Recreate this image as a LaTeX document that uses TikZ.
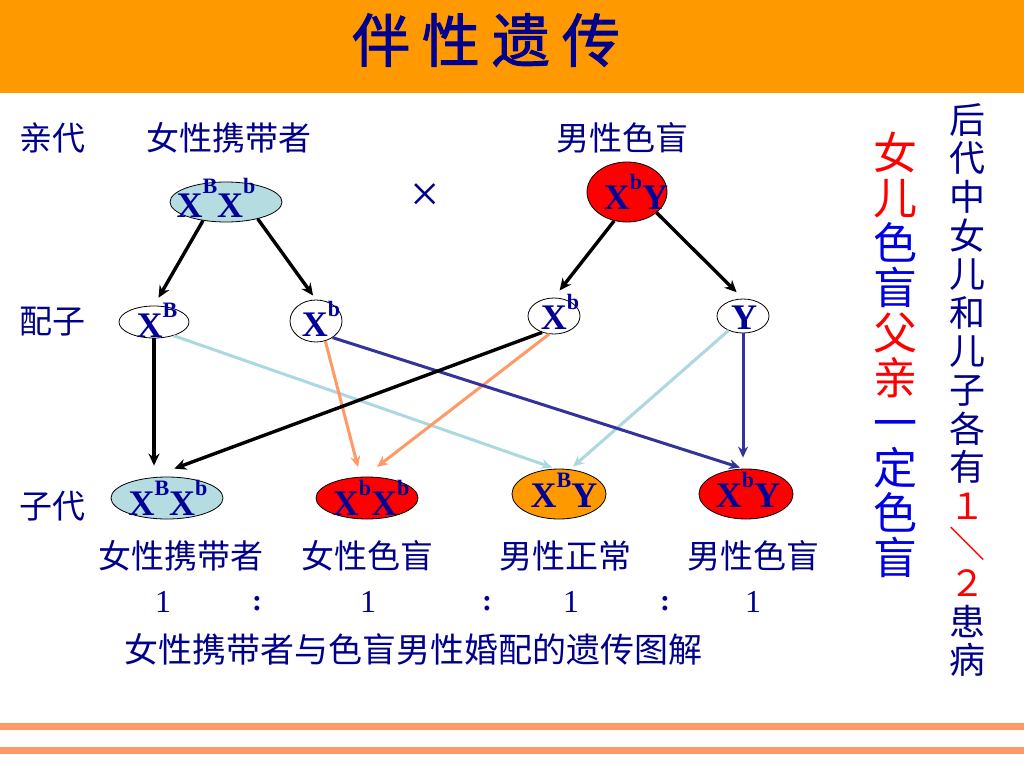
\documentclass[tikz,border=0pt]{standalone}
\usepackage{fontspec}
\setmainfont{Liberation Serif}
\newfontfamily\cjk{Noto Sans CJK SC}
\newfontfamily\cjktitle[FakeBold=1.6]{Noto Sans CJK SC}
\usetikzlibrary{shapes.geometric,arrows.meta}
\definecolor{barorange}{RGB}{255,153,0}
\definecolor{stripe}{RGB}{255,153,102}
\definecolor{txtnavy}{RGB}{0,0,140}
\definecolor{gnavy}{RGB}{0,0,153}
\definecolor{ltblue}{RGB}{180,220,225}
\definecolor{lnblue}{RGB}{172,216,224}
\definecolor{lnnavy}{RGB}{51,51,153}
\definecolor{salmon}{RGB}{255,153,102}
\definecolor{brblue}{RGB}{0,0,230}
\definecolor{fillorange}{RGB}{255,153,0}
\newcommand\gsup[2][20pt]{\raisebox{#1}{\fontsize{22}{22}\selectfont #2}}
\begin{document}
\begin{tikzpicture}[x=1pt,y=-1pt,
  cn/.style={font=\cjk\fontsize{33}{36}\selectfont, text=txtnavy, inner sep=0pt},
  gen/.style={ellipse, draw=black, line width=0.8pt, inner sep=0pt},
  gt/.style={font=\bfseries\fontsize{36}{36}\selectfont, text=gnavy, inner sep=0pt},
  rt/.style={font=\fontsize{32}{34}\selectfont, text=txtnavy, inner sep=0pt},
  blkarr/.style={draw=black, line width=3.4pt, -{Stealth[length=12pt,width=11pt]}},
  salarr/.style={draw=salmon, line width=3pt, -{Stealth[length=11pt,width=10pt]}},
  lbarr/.style={draw=lnblue, line width=3pt, -{Stealth[length=11pt,width=10pt]}},
  navarr/.style={draw=lnnavy, line width=3pt, -{Stealth[length=11pt,width=10pt]}}
]
\useasboundingbox (0,0) rectangle (1024,768);
\fill[white] (0,0) rectangle (1024,768);
% title bar
\fill[barorange] (0,0) rectangle (1024,93);
\node[font=\cjktitle\fontsize{58}{60}\selectfont, text=txtnavy, inner sep=0pt] (title) at (486,40) {伴\hspace{12pt}性\hspace{12pt}遗\hspace{12pt}传};
% bottom stripes
\fill[stripe] (0,722.5) rectangle (1024,729.6);
\fill[stripe] (0,746.8) rectangle (1024,754.3);

% row labels
\node[cn] (lp) at (52,138) {亲代};
\node[cn] (lg) at (52,322) {配子};
\node[cn] (lo) at (52,506) {子代};
\node[cn] (lp1) at (229,138) {女性携带者};
\node[cn] (lp2) at (622,138) {男性色盲};
\node[font=\fontsize{52}{52}\selectfont, text=txtnavy, inner sep=0pt] (cross) at (425,198) {×};

% parents
\node[gen, fill=ltblue, minimum width=112pt, minimum height=40pt] (P1) at (226,202) {};
\node[gen, fill=red, minimum width=80pt, minimum height=60pt] (P2) at (627,192) {};
% gametes
\node[gen, fill=white, minimum width=70pt, minimum height=32pt] (gB) at (154,322) {};
\node[gen, fill=white, minimum width=52pt, minimum height=42pt] (gb1) at (316,321) {};
\node[gen, fill=white, minimum width=52pt, minimum height=36pt] (gb2) at (554,316) {};
\node[gen, fill=white, minimum width=52pt, minimum height=34pt] (gY) at (743,316) {};
% offspring
\node[gen, fill=ltblue, minimum width=112pt, minimum height=42pt] (o1) at (167,498) {};
\node[gen, fill=red, minimum width=102pt, minimum height=42pt] (o2) at (367,498) {};
\node[gen, fill=fillorange, minimum width=94pt, minimum height=50pt] (o3) at (559,494) {};
\node[gen, fill=red, minimum width=94pt, minimum height=50pt] (o4) at (746,494) {};

% genotype texts
\node[gt] (tP1) at ([xshift=-10pt,yshift=4pt]P1.center) {X\gsup[24pt]{B}X\gsup[24pt]{b}};
\node[gt] (tP2) at ([xshift=9pt,yshift=0pt]P2.center) {X\gsup{b}Y};
\node[gt] (tgB) at ([xshift=3pt,yshift=2pt]gB.center) {X\gsup{B}};
\node[gt] (tgb1) at ([xshift=5pt,yshift=2pt]gb1.center) {X\gsup{b}};
\node[gt] (tgb2) at ([xshift=6pt,yshift=4pt]gb2.center) {X\gsup{b}};
\node[gt] (tgY) at ([xshift=1pt,yshift=-2pt]gY.center) {Y};
\node[gt] (to1) at ([xshift=1pt,yshift=0pt]o1.center) {X\gsup{B}X\gsup{b}};
\node[gt] (to2) at ([xshift=4pt,yshift=0pt]o2.center) {X\gsup{b}X\gsup{b}};
\node[gt] (to3) at ([xshift=5pt,yshift=4pt]o3.center) {X\gsup{B}Y};
\node[gt] (to4) at ([xshift=2pt,yshift=4pt]o4.center) {X\gsup{b}Y};

% parent -> gamete arrows
\draw[blkarr, shorten >=9pt] (P1.219) -- (gB.north);
\draw[blkarr, shorten >=5pt] (P1.-28) -- (gb1.north);
\draw[blkarr, shorten >=9pt] (P2.246) -- (gb2.north);
\draw[blkarr, shorten >=9pt] (P2.-35) -- (gY.north);

% gamete -> offspring
\draw[lbarr, shorten >=3.5pt] (gB.325) -- (o3.98);
\draw[lbarr, shorten >=4pt] (gY.225) -- (o3.66);
\draw[salarr, shorten >=10pt] (gb1.295) -- (o2.107);
\draw[salarr, shorten >=16pt] (gb2.255) -- (o2.97);
\draw[navarr, shorten >=3.5pt] (gb1.-45) -- (o4.96);
\draw[navarr, shorten >=11pt] (gY.south) -- (gY.south |- o4.north);
\draw[blkarr, shorten >=11pt] (gB.south) -- (gB.south |- o1.north);
\draw[blkarr, shorten >=26pt] (gb2.234) -- (o1.130);

% phenotype labels
\node[cn] (ph1) at (181,556) {女性携带者};
\node[cn] (ph2) at (367,556) {女性色盲};
\node[cn] (ph3) at (565,556) {男性正常};
\node[cn] (ph4) at (753,556) {男性色盲};
% ratio
\node[rt] (r1) at (163,602) {1};
\node[rt, font=\bfseries\fontsize{30}{32}\selectfont] (c1) at (257,604) {:};
\node[rt] (r2) at (368,602) {1};
\node[rt, font=\bfseries\fontsize{30}{32}\selectfont] (c2) at (487,604) {:};
\node[rt] (r3) at (571,602) {1};
\node[rt, font=\bfseries\fontsize{30}{32}\selectfont] (c3) at (665,604) {:};
\node[rt] (r4) at (753,602) {1};
% caption
\node[cn, font=\cjk\fontsize{34}{36}\selectfont] (cap) at (413,649) {女性携带者与色盲男性婚配的遗传图解};

% right columns
\node[font=\cjk\fontsize{44}{45}\selectfont, align=center, inner sep=0pt] (col1) at (895,355)
 {\textcolor{red}{女}\\\textcolor{red}{儿}\\\textcolor{brblue}{色}\\\textcolor{brblue}{盲}\\\textcolor{red}{父}\\\textcolor{red}{亲}\\\textcolor{brblue}{一}\\\textcolor{brblue}{定}\\\textcolor{brblue}{色}\\\textcolor{brblue}{盲}};
\node[font=\cjk\fontsize{36}{38.6}\selectfont, text=txtnavy, align=center, inner sep=0pt] (col2) at (967,390)
 {后\\代\\中\\女\\儿\\和\\儿\\子\\各\\有\\\textcolor{red}{１}\\\textcolor{red}{＼}\\\textcolor{red}{２}\\患\\病};
\end{tikzpicture}
\end{document}
